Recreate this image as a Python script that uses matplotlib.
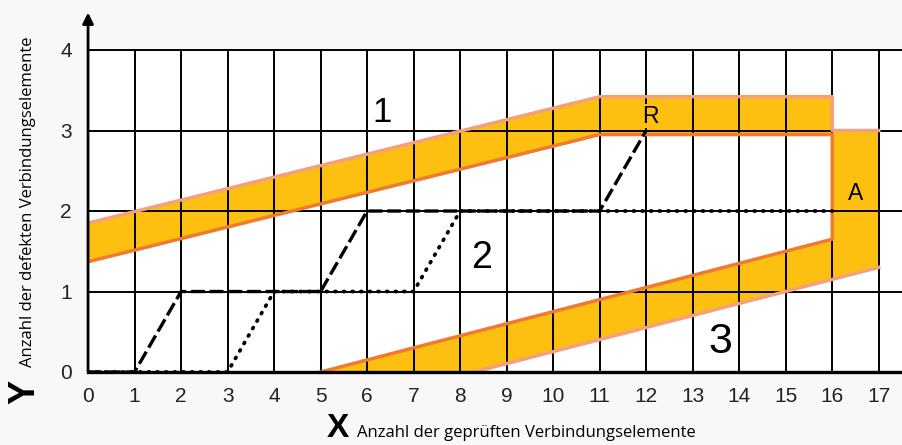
import numpy as np
import matplotlib.pyplot as plt
from matplotlib import font_manager

# acceptance band (upper/lower limits)
band1_x = [0, 11, 16]
band1_top = [1.85, 3.42, 3.42]
band1_bot = [1.37, 2.95, 2.95]
band3_top_x = [5, 16]
band3_top = [0, 1.65]
band3_bot_x = [8.3, 17]
band3_bot = [0, 1.3]
a_top = 3.0

# two sampling paths
dash_x = [0, 1, 2, 5, 6, 11, 12]
dash_y = [0, 0, 1, 1, 2, 2, 3]
dot_x = [0, 3, 4, 7, 8, 16]
dot_y = [0, 0, 1, 1, 2, 2]

xticks = list(range(0, 18))
yticks = [0, 1, 2, 3, 4]

fill_c = '#fdc010'
dark_c = '#f07a30'
light_c = '#f5a07c'

names = {f.name for f in font_manager.fontManager.ttflist}
if 'Liberation Sans Narrow' in names:
    fnt, tick_fs = 'Liberation Sans Narrow', 16.5
else:
    fnt, tick_fs = 'Liberation Sans', 15
big = 'Liberation Sans'

fig = plt.figure(figsize=(9.02, 4.45), dpi=100, facecolor='#f8f8f8')
ax = fig.add_axes([0.0976, 0.164, 0.9024, 0.805])
ax.set_xlim(0, 17.5)
ax.set_ylim(0, 4.45)
for s in ax.spines.values():
    s.set_visible(False)
ax.patch.set_visible(False)

# white plot area only up to y=4
ax.fill_between([0, 17.5], 0, 4, color='white', zorder=0)

# yellow region
px = band1_x + [band3_top_x[-1], band3_top_x[0], band3_bot_x[0], band3_bot_x[-1],
                band3_bot_x[-1], band1_x[-1], band1_x[-1]] + band1_x[::-1]
py = band1_bot + [band3_top[-1], band3_top[0], band3_bot[0], band3_bot[-1],
                  a_top, a_top, band1_top[-1]] + band1_top[::-1]
ax.fill(px, py, color=fill_c, lw=0, zorder=1)

# grid
for x in xticks[1:]:
    ax.plot([x, x], [0, 4], color='black', lw=1.4, zorder=2)
for y in yticks[1:]:
    ax.plot([0, 17.5], [y, y], color='black', lw=1.4, zorder=2)
ax.plot([0, 17.5], [0, 0], color='black', lw=2.4, zorder=5, clip_on=False)

# band edges
ax.plot(band1_x + band3_top_x[::-1], band1_bot + band3_top[::-1],
        color=dark_c, lw=2.5, zorder=3)
ax.plot(band1_x + [16, 17], band1_top + [a_top, a_top], color=light_c, lw=2.5, zorder=3)
ax.plot(band3_bot_x, band3_bot, color=light_c, lw=2.5, zorder=3)

# paths
ax.plot(dot_x, dot_y, color='black', lw=2.7, ls=(0, (0.3, 2.0)), dash_capstyle='round', zorder=4)
ax.plot(dash_x, dash_y, color='black', lw=2.4, ls=(0, (4.2, 1.4)), zorder=4)

# y axis with arrow
ax.annotate('', xy=(0, 4.5), xytext=(0, -0.02), xycoords='data',
            arrowprops=dict(arrowstyle='-|>', color='black', lw=2, mutation_scale=16),
            annotation_clip=False, zorder=6)

ax.set_xticks([])
ax.set_yticks([])
for x in xticks:
    ax.text(x, -0.3, str(x), ha='center', va='center', fontsize=tick_fs, family=fnt, color='#222222')
for y in yticks:
    ax.text(-0.47, y - 0.02, str(y), ha='center', va='center', fontsize=tick_fs, family=fnt,
            color='#222222')

ax.text(6.32, 3.23, '1', ha='center', va='center', fontsize=25, family=big)
ax.text(8.47, 1.42, '2', ha='center', va='center', fontsize=27, family=big)
ax.text(13.59, 0.37, '3', ha='center', va='center', fontsize=31, family=big)
ax.text(12.1, 3.18, 'R', ha='center', va='center', fontsize=16.5, family=big, zorder=3.5,
        bbox=dict(facecolor=fill_c, edgecolor='none', pad=0.5))
ax.text(16.5, 2.22, 'A', ha='center', va='center', fontsize=16.5, family=big, zorder=3.5)

# axis titles
fig.text(0.028, 0.119, 'Y', rotation=90, ha='center', va='center', fontsize=26,
         fontweight='bold', family=big)
fig.text(0.031, 0.546, 'Anzahl der defekten Verbindungselemente', rotation=90,
         ha='center', va='center', fontsize=12, family='Open Sans')
fig.text(0.375, 0.036, 'X', ha='center', va='center', fontsize=24, fontweight='bold', family=big)
fig.text(0.396, 0.018, 'Anzahl der geprüften Verbindungselemente', ha='left', va='baseline',
         fontsize=12, family='Open Sans')

fig.savefig('out.png', dpi=100, facecolor=fig.get_facecolor())
